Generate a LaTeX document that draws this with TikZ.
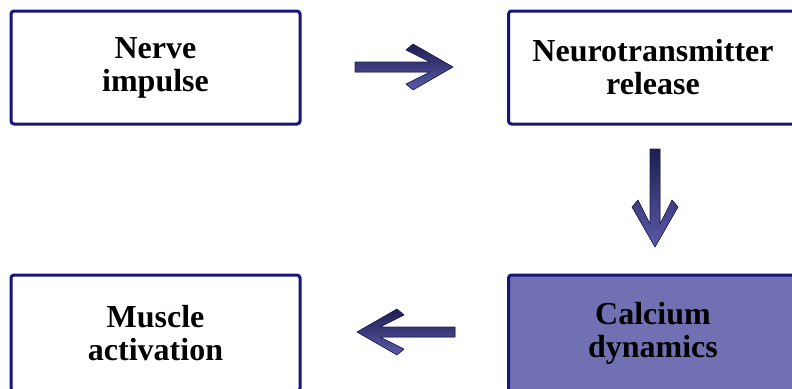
\documentclass[tikz,border=0pt]{standalone}
\usepackage{fontspec}
\setmainfont{Liberation Serif}
\definecolor{boxborder}{HTML}{16167A}
\definecolor{calfill}{HTML}{7070B2}
\definecolor{arrdark}{HTML}{1E1E52}
\definecolor{arrlight}{HTML}{5A5AA8}
\begin{document}
\begin{tikzpicture}[x=1pt,y=-1pt,
  flowbox/.style={draw=boxborder, line width=3pt, rounded corners=3pt,
    minimum width=289pt, minimum height=113pt, inner sep=0pt,
    align=center, font=\fontsize{32}{33}\selectfont\bfseries, text=black},
  fatarrow/.style={draw=arrdark, line width=0.6pt, line join=round}]
\useasboundingbox (0,0) rectangle (792,388);
\node[flowbox] (nerve) at (155.5,67.5) {Nerve\\impulse};
\node[flowbox] (neuro) at (653,67.5) {Neurotransmitter\\release};
\node[flowbox, fill=calfill, minimum height=116pt] (calc) at (653,333) {Calcium\\dynamics};
\node[flowbox, minimum height=116pt] (muscle) at (155.5,333) {Muscle\\activation};
% arrows
\coordinate (a1tip) at (453,67);
\coordinate (a2tip) at (655,247);
\coordinate (a3tip) at (357,332);
\filldraw[fatarrow, top color=arrdark, bottom color=arrlight]
  (a1tip) -- (413,44) -- (406,50) -- (430,62) -- (355,62) -- (355,72)
  -- (430,72) -- (406,84) -- (413,90) -- cycle;
\filldraw[fatarrow, top color=arrdark, bottom color=arrlight]
  (a2tip) -- (678,207) -- (672,200) -- (660,224) -- (660,149) -- (650,149)
  -- (650,224) -- (638,200) -- (632,207) -- cycle;
\filldraw[fatarrow, top color=arrdark, bottom color=arrlight]
  (a3tip) -- (397,355) -- (404,349) -- (380,337) -- (455,337) -- (455,327)
  -- (380,327) -- (404,315) -- (397,309) -- cycle;
\end{tikzpicture}
\end{document}
